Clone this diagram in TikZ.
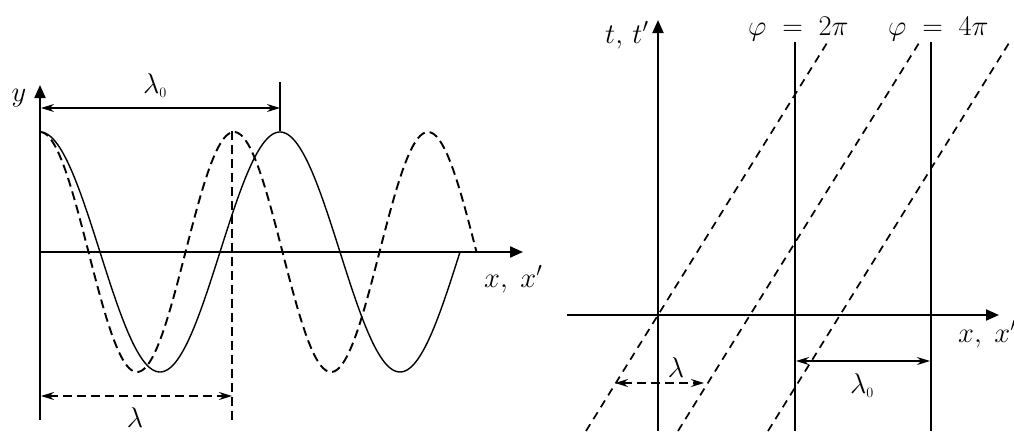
\RequirePackage{fix-cm}
\documentclass[tikz,border=0pt]{standalone}
\usetikzlibrary{arrows.meta}
\begin{document}
\begin{tikzpicture}[x=1pt,y=-1pt,
  lbl/.style={font=\fontsize{28.5}{34}\selectfont, inner sep=0pt},
  axisline/.style={line width=2pt, -{Triangle[length=13pt,width=11pt]}},
  dimline/.style={line width=1.3pt, {Stealth[length=13pt,width=8pt]}-{Stealth[length=13pt,width=8pt]}},
  dsh/.style={dash pattern=on 9pt off 5pt},
  curve/.style={line width=1.4pt},
  dcurve/.style={line width=1.9pt, dash pattern=on 9pt off 5pt},
  thinline/.style={line width=1.4pt}]
\useasboundingbox (0,0) rectangle (1014,431);

% ---------- left plot ----------
\coordinate (yB) at (40,420);
\coordinate (yT) at (40,85);
\coordinate (xL) at (40,252);
\coordinate (xR) at (523,252);
\draw[axisline] (yB) -- (yT);
\draw[axisline] (xL) -- (xR);
\node[lbl, anchor=base] (ylab) at (19,101) {$y$};
\node[lbl, anchor=base west] (xlab1) at (484,287) {$x,\;x'$};

% waves
\draw[curve] plot[domain=40:460, samples=240, smooth] (\x, {252-120*cos(1.5*(\x-40))});
\draw[dcurve] plot[domain=40:476.5, samples=240, smooth] (\x, {252-120*cos(1.85567*(\x-40))});

% lambda_0 marker
\coordinate (tkT) at (280,82);
\coordinate (tkB) at (280,131);
\draw[thinline] (tkT) -- (tkB);
\coordinate (l0a) at (41,108);
\coordinate (l0b) at (280,108);
\draw[dimline] (l0a) -- (l0b);
\node[lbl, anchor=base] (l0lab) at (155,93) {$\lambda_{\scriptscriptstyle 0}$};

% lambda marker
\coordinate (dvT) at (232,131);
\coordinate (dvB) at (232,421);
\draw[thinline, line width=1.8pt, dsh] (dvT) -- (dvB);
\coordinate (la) at (41,396);
\coordinate (lb) at (232,396);
\draw[dimline, line width=1.8pt, dsh] (la) -- (lb);
\node[lbl, anchor=base] (llab) at (135,427) {$\lambda$};

% ---------- right plot ----------
\coordinate (tB) at (658,431);
\coordinate (tT) at (658,20);
\coordinate (rxL) at (567,315);
\coordinate (rxR) at (999,315);
\draw[axisline] (tB) -- (tT);
\draw[axisline] (rxL) -- (rxR);
\node[lbl, anchor=base west] (tlab) at (605,43) {$t,\,t'$};
\node[lbl, anchor=base west] (xlab2) at (958,342) {$x,\;x'$};

% phase lines
\coordinate (p2T) at (795,42);
\coordinate (p2B) at (795,431);
\coordinate (p4T) at (931,42);
\coordinate (p4B) at (931,431);
\draw[thinline] (p2T) -- (p2B);
\draw[thinline] (p4T) -- (p4B);
\node[lbl, anchor=base west] (phi2) at (748,35) {$\varphi\;=\;2\pi$};
\node[lbl, anchor=base west] (phi4) at (888,35) {$\varphi\;=\;4\pi$};

% dashed world lines
\coordinate (d1B) at (586,431);
\coordinate (d1T) at (827,43);
\coordinate (d2B) at (678,431);
\coordinate (d2T) at (919,43);
\coordinate (d3B) at (768,431);
\coordinate (d3T) at (1009,43);
\draw[thinline, line width=1.7pt, dash pattern=on 8pt off 6pt] (d1B) -- (d1T);
\draw[thinline, line width=1.7pt, dash pattern=on 8pt off 6pt] (d2B) -- (d2T);
\draw[thinline, line width=1.7pt, dash pattern=on 8pt off 6pt] (d3B) -- (d3T);

% lambda (right)
\coordinate (rla) at (615,383);
\coordinate (rlb) at (704,383);
\draw[dimline, line width=1.6pt, dsh] (rla) -- (rlb);
\node[lbl, anchor=base] (rllab) at (676,377) {$\lambda$};

% lambda_0 (right)
\coordinate (rl0a) at (796,361);
\coordinate (rl0b) at (930,361);
\draw[dimline] (rl0a) -- (rl0b);
\node[lbl, anchor=base] (rl0lab) at (862,393) {$\lambda_{\scriptscriptstyle 0}$};
\end{tikzpicture}
\end{document}
